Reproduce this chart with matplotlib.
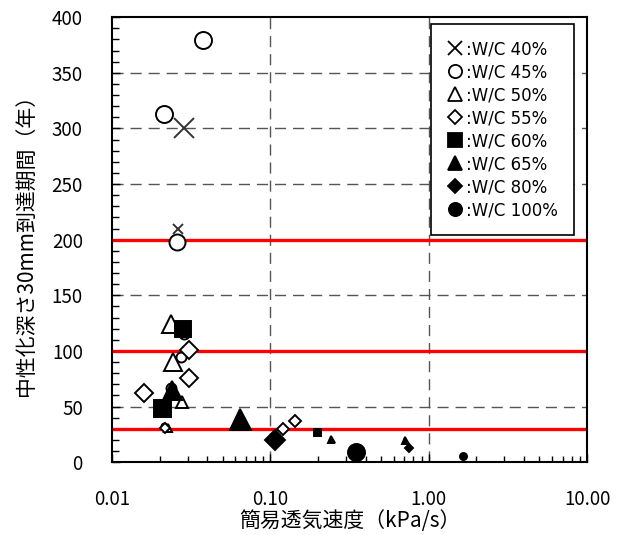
import matplotlib.pyplot as plt
from matplotlib.ticker import MultipleLocator, FixedLocator, FixedFormatter, LogLocator, NullFormatter

plt.rcParams['font.family'] = ['Noto Sans CJK JP', 'DejaVu Sans']

# 簡易透気速度 (kPa/s), 到達期間 (年), marker size (px)
wc40_x = [0.0287, 0.0263]
wc40_y = [300, 210]
wc40_s = [20, 10]

wc45_x = [0.0378, 0.0214, 0.0257, 0.0286, 0.0272, 0.0236, 0.0213]
wc45_y = [379, 313, 198, 115, 95, 67, 33]
wc45_s = [17, 17, 16, 10, 10, 10, 6]

wc50_x = [0.0236, 0.0244, 0.0276, 0.0227]
wc50_y = [124, 90, 54, 31]
wc50_s = [18, 18, 12, 8]

wc55_x = [0.0307, 0.0307, 0.0160, 0.0216, 0.120, 0.144]
wc55_y = [101, 76, 62, 31, 30, 37]
wc55_s = [18, 18, 18, 9, 11, 11]

wc60_x = [0.0279, 0.0208, 0.198]
wc60_y = [120, 49, 27]
wc60_s = [16, 17, 7]

wc65_x = [0.0239, 0.0643, 0.240, 0.705]
wc65_y = [65, 39, 21, 20]
wc65_s = [19, 21, 7, 7]

wc80_x = [0.1076, 0.750]
wc80_y = [20, 13]
wc80_s = [19, 8]

wc100_x = [0.349, 1.65]
wc100_y = [9, 6]
wc100_s = [17, 7]

series = [
    (wc40_x, wc40_y, wc40_s, 'x', 'none', ':W/C 40%'),
    (wc45_x, wc45_y, wc45_s, 'o', 'white', ':W/C 45%'),
    (wc50_x, wc50_y, wc50_s, '^', 'white', ':W/C 50%'),
    (wc55_x, wc55_y, wc55_s, 'D', 'white', ':W/C 55%'),
    (wc60_x, wc60_y, wc60_s, 's', 'black', ':W/C 60%'),
    (wc65_x, wc65_y, wc65_s, '^', 'black', ':W/C 65%'),
    (wc80_x, wc80_y, wc80_s, 'D', 'black', ':W/C 80%'),
    (wc100_x, wc100_y, wc100_s, 'o', 'black', ':W/C 100%'),
]

red_levels = [30, 100, 200]

fig = plt.figure(figsize=(6.22, 5.35), dpi=100)
ax = fig.add_axes([0.180, 0.136, 0.764, 0.832])

ax.set_xscale('log')
ax.set_xlim(0.01, 10)
ax.set_ylim(0, 400)

# grid
for yv in range(50, 400, 50):
    ax.axhline(yv, color='#555555', lw=1.0, ls=(0, (8, 5)), zorder=1)
for xv in [0.1, 1]:
    ax.axvline(xv, color='#555555', lw=1.0, ls=(0, (8, 5)), zorder=1)

for yv in red_levels:
    ax.axhline(yv, color='#ff0000', lw=2.4, zorder=2)

handles = []
for xs, ys, ss, m, fc, lab in series:
    mec = '#333333' if m == 'x' else 'black'
    for x, y, s in zip(xs, ys, ss):
        msize = s * 0.72
        if m == 'D':
            msize *= 0.72
        ax.plot([x], [y], ls='none', marker=m, ms=msize,
                mfc=fc if m != 'x' else 'black', mec=mec,
                mew=1.4, zorder=3)
    h, = ax.plot([], [], ls='none', marker=m, ms=9.5 if m != 'D' else 7,
                 mfc=fc if m != 'x' else 'black', mec='black', mew=1.3, label=lab)
    handles.append(h)

leg = ax.legend(handles=handles, loc='upper right', bbox_to_anchor=(0.9726, 0.984),
                prop={'family': 'DejaVu Sans', 'size': 12}, frameon=True,
                fancybox=False, framealpha=1, edgecolor='black',
                handlelength=1.0, handletextpad=0.2, labelspacing=0.3,
                borderpad=0.95, borderaxespad=0)
leg.get_frame().set_linewidth(1.2)

ax.yaxis.set_major_locator(MultipleLocator(50))
ax.yaxis.set_minor_locator(MultipleLocator(10))
ax.xaxis.set_major_locator(FixedLocator([0.01, 0.1, 1, 10]))
ax.xaxis.set_major_formatter(FixedFormatter(['0.01', '0.10', '1.00', '10.00']))
ax.xaxis.set_minor_locator(LogLocator(base=10, subs=range(2, 10)))
ax.xaxis.set_minor_formatter(NullFormatter())

ax.tick_params(axis='both', which='both', direction='in', top=False, right=False,
               labelsize=13.5, width=1)
ax.tick_params(axis='y', which='major', length=6, pad=21)
ax.tick_params(axis='y', which='minor', length=5)
ax.tick_params(axis='x', which='major', length=6, pad=19)
ax.tick_params(axis='x', which='minor', length=4)

for sp in ax.spines.values():
    sp.set_linewidth(1.5)

ax.set_xlabel('簡易透気速度（kPa/s）', fontsize=15, labelpad=0)
ax.set_ylabel('中性化深さ30mm到達期間（年）', fontsize=15, labelpad=10)

fig.savefig('out.png', dpi=100)
